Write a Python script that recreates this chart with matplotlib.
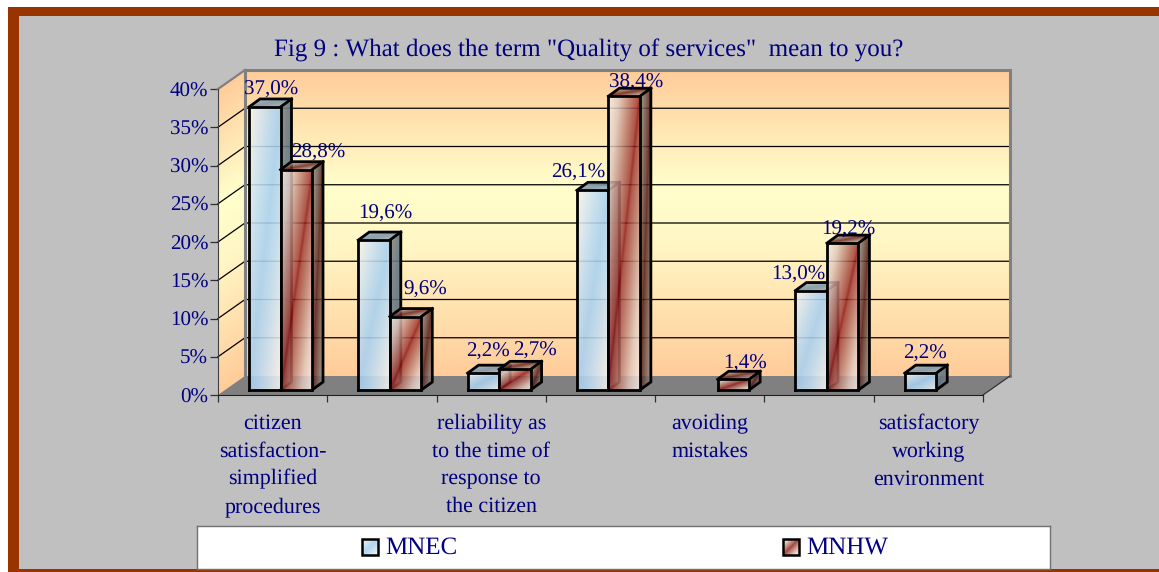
import numpy as np
import matplotlib
matplotlib.use('Agg')
import matplotlib.pyplot as plt
from matplotlib.colors import to_rgb
from matplotlib.patches import Polygon, Rectangle

categories = ['citizen\nsatisfaction-\nsimplified\nprocedures', '',
              'reliability as\nto the time of\nresponse to\nthe citizen', '',
              'avoiding\nmistakes', '',
              'satisfactory\nworking\nenvironment']
series_names = ['MNEC', 'MNHW']
mnec = [37.0, 19.6, 2.2, 26.1, np.nan, 13.0, 2.2]
mnhw = [28.8, 9.6, 2.7, 38.4, 1.4, 19.2, np.nan]
y_ticks = [0, 5, 10, 15, 20, 25, 30, 35, 40]

# label nudges in pixels, relative to the top centre of each bar
mnec_nudge = [(6, 17), (11, 26), (5, 21), (-14, 18), (0, 0), (-13, 16), (4, 19)]
mnhw_nudge = [(22, 17), (20, 27), (20, 19), (12, 14), (12, 16), (6, 13), (0, 0)]

W, H = 1159, 572
NAVY = '#000080'
SERIF = ['Liberation Serif', 'DejaVu Serif']

# front plane of the chart box in pixels
LEFT, RIGHT, BOTTOM, TOP = 218, 983, 395, 89
PX = 7 / (RIGHT - LEFT)
PY = 40 / (BOTTOM - TOP)
WALL_DX, WALL_DY = 27 * PX, 19 * PY
BAR_DX, BAR_DY = 11 * PX, 8 * PY
BAR_LIFT = 5 * PY
BAR_W = 31.5 * PX
BAR_GAP = 31 * PX

plt.rcParams['font.family'] = SERIF
plt.rcParams['text.hinting'] = 'no_hinting'
plt.rcParams['text.hinting_factor'] = 1


def ramp(t, stops, colors, alpha=1.0, shade=1.0):
    rgb = np.array([to_rgb(c) for c in colors])
    out = np.zeros(t.shape + (4,))
    for i in range(3):
        out[..., i] = np.interp(t, stops, rgb[:, i]) * shade
    out[..., 3] = alpha
    return out


def blue_fill(u, v, shade=1.0):
    s = np.abs(u - v)
    return ramp(s, [0, 0.35, 1], ['#A8D0F0', '#BFDCF3', '#FBF5EE'], 0.88, shade)


def red_fill(u, v, shade=1.0):
    s = np.abs(u - v)
    return ramp(s, [0, 0.06, 0.3, 0.65, 1],
                ['#8A0F0F', '#A03A34', '#B87468', '#E0C8BE', '#FBF1EA'], 0.84, shade)


def wall_fill(u, v, shade=1.0):
    return ramp(v, [0, 0.42, 0.62, 1], ['#FFCC99', '#FFF6C4', '#FFFFCC', '#FFCC99'])


def face(ax, origin, du, dv, fill, zorder, shade=1.0, n=160):
    """Paint a parallelogram with a fill that depends on its own u, v coordinates."""
    origin, du, dv = np.array(origin), np.array(du), np.array(dv)
    corners = np.array([origin, origin + du, origin + du + dv, origin + dv])
    x0, y0 = corners.min(axis=0)
    x1, y1 = corners.max(axis=0)
    xs, ys = np.meshgrid(np.linspace(x0, x1, n), np.linspace(y0, y1, n))
    inv = np.linalg.inv(np.column_stack([du, dv]))
    u = np.clip(inv[0, 0] * (xs - origin[0]) + inv[0, 1] * (ys - origin[1]), 0, 1)
    v = np.clip(inv[1, 0] * (xs - origin[0]) + inv[1, 1] * (ys - origin[1]), 0, 1)
    im = ax.imshow(fill(u, v, shade), extent=(x0, x1, y0, y1), origin='lower',
                   aspect='auto', interpolation='bilinear', zorder=zorder)
    im.set_clip_box(ax.figure.bbox)
    im.set_clip_path(Polygon(corners, transform=ax.transData))
    return corners


def edge(ax, pts, zorder, color='black', lw=2.0):
    xy = np.array(pts)
    ax.plot(xy[:, 0], xy[:, 1], color=color, lw=lw, clip_on=False, zorder=zorder,
            solid_capstyle='projecting', solid_joinstyle='miter')


def draw_bar(ax, x, value, fill, zorder):
    base = BAR_LIFT
    # side and top first so the front face sits over them
    face(ax, (x + BAR_W, base), (BAR_DX, BAR_DY), (0, value), fill, zorder, 0.55)
    face(ax, (x, base + value), (BAR_W, 0), (BAR_DX, BAR_DY), fill, zorder, 0.72)
    face(ax, (x, base), (BAR_W, 0), (0, value), fill, zorder + 0.1)
    top = base + value
    edge(ax, [(x, base), (x + BAR_W, base), (x + BAR_W, top), (x, top), (x, base)], zorder + 0.2)
    edge(ax, [(x, top), (x + BAR_DX, top + BAR_DY), (x + BAR_W + BAR_DX, top + BAR_DY),
              (x + BAR_W + BAR_DX, base + BAR_DY), (x + BAR_W, base)], zorder + 0.2)
    edge(ax, [(x + BAR_W, top), (x + BAR_W + BAR_DX, top + BAR_DY)], zorder + 0.2)


fig = plt.figure(figsize=(W / 100, H / 100), dpi=100, facecolor='white')

# brown frame with the grey panel inside it
fig.add_artist(Rectangle((8 / W, 0), 1 - 8 / W, 1 - 7 / H, transform=fig.transFigure,
                         fc='#993300', ec='none', zorder=-2))
fig.add_artist(Rectangle((19 / W, 3 / H), 1 - 19 / W, 1 - 19 / H, transform=fig.transFigure,
                         fc='#C0C0C0', ec='none', zorder=-1))

fig.text(588.5 / W, 1 - 51 / H, 'Fig 9 : What does the term "Quality of services"  mean to you?',
         color=NAVY, fontsize=18, ha='center', va='center', family=SERIF)

ax = fig.add_axes([LEFT / W, 1 - BOTTOM / H, (RIGHT - LEFT) / W, (BOTTOM - TOP) / H])
ax.patch.set_visible(False)
ax.set_xlim(0, 7)
ax.set_ylim(0, 40)

# walls and floor
face(ax, (WALL_DX, WALL_DY), (7, 0), (0, 40), wall_fill, 1, n=300)
face(ax, (0, 0), (WALL_DX, WALL_DY), (0, 40), wall_fill, 1, n=300)
ax.add_patch(Polygon([(0, 0), (7, 0), (7 + WALL_DX, WALL_DY), (WALL_DX, WALL_DY)],
                     fc='#808080', ec='none', clip_on=False, zorder=1.5))

for tick in y_ticks[1:-1]:
    edge(ax, [(0, tick), (WALL_DX, tick + WALL_DY), (7 + WALL_DX, tick + WALL_DY)], 2, lw=0.9)

edge(ax, [(WALL_DX, WALL_DY), (WALL_DX, 40 + WALL_DY), (7 + WALL_DX, 40 + WALL_DY),
          (7 + WALL_DX, WALL_DY)], 2.5, color='#808080', lw=2.2)
edge(ax, [(0, 40), (WALL_DX, 40 + WALL_DY)], 2.5, color='#808080', lw=1.6)
edge(ax, [(7, 0), (7 + WALL_DX, WALL_DY)], 2.5, color='#333333', lw=0.9)

for i in range(len(categories)):
    x = i + BAR_GAP
    if not np.isnan(mnec[i]):
        draw_bar(ax, x, mnec[i], blue_fill, 3 + i)
    if not np.isnan(mnhw[i]):
        draw_bar(ax, x + BAR_W, mnhw[i], red_fill, 3.5 + i)

for values, nudges, shift in [(mnec, mnec_nudge, 0), (mnhw, mnhw_nudge, BAR_W)]:
    for i, value in enumerate(values):
        if np.isnan(value):
            continue
        ax.annotate(f'{value:.1f}%'.replace('.', ','),
                    (i + BAR_GAP + shift + BAR_W / 2, BAR_LIFT + value),
                    xytext=(nudges[i][0] * 0.72, nudges[i][1] * 0.72), textcoords='offset points',
                    color=NAVY, fontsize=15, ha='center', va='center', zorder=20,
                    annotation_clip=False, family=SERIF)

# axes, ticks and their labels
for side in ['top', 'right']:
    ax.spines[side].set_visible(False)
ax.spines['left'].set_color('#404040')
ax.spines['bottom'].set_color('#202020')
ax.spines['left'].set_zorder(2.6)
ax.spines['bottom'].set_zorder(2.6)
ax.set_yticks(y_ticks)
ax.set_yticklabels([f'{t}%' for t in y_ticks], color=NAVY, fontsize=15.4, family=SERIF)
ax.tick_params(axis='y', length=5.5, width=0.9, color='#303030', pad=1.5)
ax.set_xticks(range(8))
ax.set_xticklabels([])
ax.tick_params(axis='x', which='major', length=5, width=0.9, color='#303030')
ax.set_xticks(np.arange(len(categories)) + 0.5, minor=True)
ax.set_xticklabels(categories, minor=True, color=NAVY, fontsize=15.7, family=SERIF,
                   linespacing=1.5, va='top')
ax.tick_params(axis='x', which='minor', length=0, pad=13.5)

# legend box
leg = fig.add_axes([197 / W, 1 - 569 / H, 853 / W, 43 / H])
leg.set_xlim(197, 1050)
leg.set_ylim(569, 526)
leg.set_xticks([])
leg.set_yticks([])
leg.set_facecolor('white')
for spine in leg.spines.values():
    spine.set_color('#707070')
    spine.set_linewidth(1.0)
for name, fill, sx in zip(series_names, [blue_fill, red_fill], [362, 783]):
    face(leg, (sx, 555), (16, 0), (0, -16), fill, 2, n=40)
    leg.add_patch(Rectangle((sx, 539), 16, 16, fc='none', ec='black', lw=1.8, zorder=3))
    leg.text(sx + 23, 548, name, color=NAVY, fontsize=18.2, ha='left', va='center', family=SERIF)

fig.savefig('out.png', dpi=100, facecolor='white')
